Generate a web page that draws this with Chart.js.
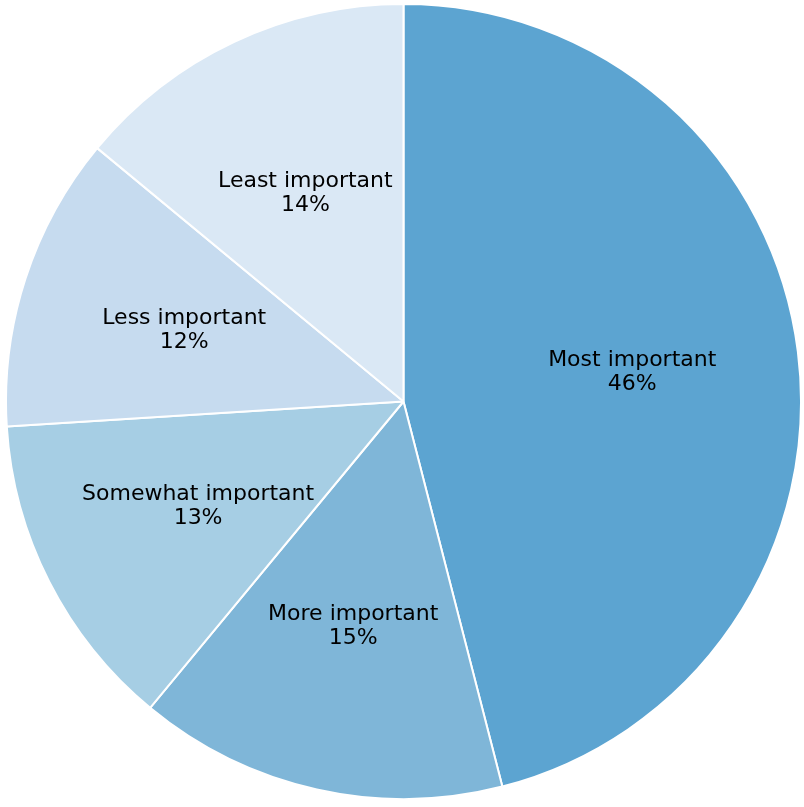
<!DOCTYPE html>
<html>
<head>
<meta charset="utf-8">
<script src="https://cdn.jsdelivr.net/npm/chart.js@4"></script>
<style>
  html, body { margin: 0; padding: 0; background: #fff; }
  #wrap { position: absolute; left: 5px; top: 3px; width: 797px; height: 797px; }
</style>
</head>
<body>
<div id="wrap"><canvas id="pieChart"></canvas></div>
<script>
const categories = ['Most important', 'More important', 'Somewhat important', 'Less important', 'Least important'];
const shares = [46, 15, 13, 12, 14];
const colors = ['#5ca4d1', '#7fb6d8', '#a6cee4', '#c6dbef', '#dae8f5'];

// draws "label\nxx%" inside each slice, at 0.58 of the radius
const sliceLabels = {
  id: 'sliceLabels',
  afterDatasetsDraw(chart) {
    const { ctx } = chart;
    const meta = chart.getDatasetMeta(0);
    ctx.save();
    ctx.fillStyle = '#000';
    ctx.font = '22px "DejaVu Sans"';
    ctx.textAlign = 'center';
    ctx.textBaseline = 'middle';
    meta.data.forEach((arc, i) => {
      const mid = (arc.startAngle + arc.endAngle) / 2;
      const r = arc.outerRadius * 0.58;
      const x = arc.x + Math.cos(mid) * r;
      const y = arc.y + Math.sin(mid) * r;
      ctx.fillText(categories[i], x, y - 12);
      ctx.fillText(shares[i] + '%', x, y + 12);
    });
    ctx.restore();
  }
};

new Chart(document.getElementById('pieChart'), {
  type: 'pie',
  data: {
    labels: categories,
    datasets: [{
      data: shares,
      backgroundColor: colors,
      borderColor: '#ffffff',
      borderWidth: 2
    }]
  },
  options: {
    responsive: true,
    maintainAspectRatio: false,
    animation: false,
    layout: { padding: 0 },
    plugins: {
      legend: { display: false },
      tooltip: { enabled: false }
    }
  },
  plugins: [sliceLabels]
});
</script>
</body>
</html>
